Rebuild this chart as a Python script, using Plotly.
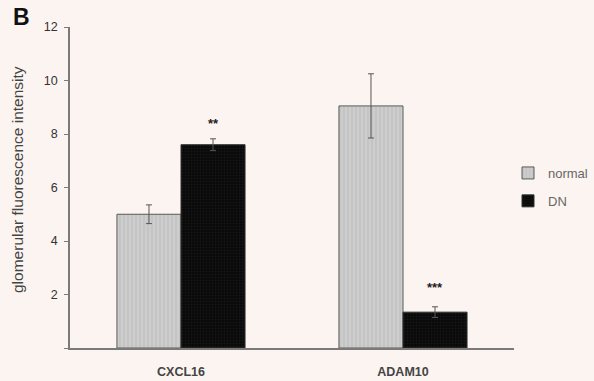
import plotly.graph_objects as go

categories = ["CXCL16", "ADAM10"]
normal_vals = [5.0, 9.05]
normal_err = [0.35, 1.2]
dn_vals = [7.6, 1.34]
dn_err = [0.22, 0.2]
sig_labels = ["**", "***"]
sig_y = [8.4, 2.25]
y_ticks = [0, 2, 4, 6, 8, 10, 12]
y_ticklabels = ["", "2", "4", "6", "8", "10", "12"]

BG = "#fcf4f0"
AXC = "#7a7a7a"

fig = go.Figure()
fig.add_trace(go.Bar(
    name="normal", x=categories, y=normal_vals, legendgroup="a",
    marker=dict(color="#c9c9c9", line=dict(color="#5a5a5a", width=1),
                pattern=dict(shape="|", fgcolor="#a8a8a8", bgcolor="#cdcdcd", size=4, solidity=0.25)),
    error_y=dict(type="data", array=normal_err, color="#555555", thickness=1, width=3),
))
fig.add_trace(go.Bar(
    name="DN", x=categories, y=dn_vals, legendgroup="b",
    marker=dict(color="#0a0a0a", line=dict(color="#333333", width=1),
                pattern=dict(shape=".", fgcolor="#262626", bgcolor="#080808", size=3, solidity=0.3)),
    error_y=dict(type="data", array=dn_err, color="#555555", thickness=1, width=3),
))

offset = 0.577 / 4
for i, (lab, yy) in enumerate(zip(sig_labels, sig_y)):
    fig.add_annotation(x=i + offset, y=yy, xref="x", yref="y", text="<b>" + lab + "</b>",
                       showarrow=False, font=dict(size=13, color="#222222", family="Liberation Sans"))

fig.add_annotation(x=-70 / 444 + 17 / 444, y=(348 - 180) / 321, xref="paper", yref="paper",
                   text="glomerular fluorescence intensity", textangle=-90, showarrow=False,
                   font=dict(size=15.5, color="#444444", family="Liberation Sans"),
                   xanchor="center", yanchor="middle")
fig.add_annotation(x=-70 / 444 + 21 / 444, y=(348 - 17) / 321, xref="paper", yref="paper",
                   text="<b>B</b>", showarrow=False,
                   font=dict(size=23, color="#111111", family="Liberation Sans"),
                   xanchor="center", yanchor="middle")

fig.update_layout(
    width=594, height=381,
    margin=dict(l=70, r=80, t=27, b=33, autoexpand=False),
    paper_bgcolor=BG, plot_bgcolor=BG,
    barmode="group", bargap=0.423, bargroupgap=0,
    font=dict(family="Liberation Sans", color="#333333"),
    showlegend=True,
    legend=dict(x=(508 - 70) / 444, y=(348 - 158) / 321, xanchor="left", yanchor="top",
                font=dict(size=13, color="#666666"), bgcolor="rgba(0,0,0,0)",
                tracegroupgap=8, itemwidth=30),
    xaxis=dict(range=[-0.5, 1.5], showline=True, linecolor=AXC, linewidth=1.5,
               ticks="", tickfont=dict(size=12.5, color="#444444", family="Liberation Sans"),
               ticklabelstandoff=11, showgrid=False, zeroline=False),
    yaxis=dict(range=[0, 12], tickvals=y_ticks, ticktext=y_ticklabels,
               showline=True, linecolor=AXC, linewidth=1.5,
               ticks="outside", ticklen=4, tickcolor=AXC, ticklabelstandoff=4,
               tickfont=dict(size=12.5, color="#333333", family="Liberation Sans"),
               showgrid=False, zeroline=False),
)
fig.update_xaxes(tickprefix="<b>", ticksuffix="</b>")
fig.update_yaxes(tickprefix="<b>", ticksuffix="</b>")

fig.write_html("out.html", config={"displayModeBar": False},
               post_script="document.body.style.margin='0';document.body.style.background='" + BG + "';")
